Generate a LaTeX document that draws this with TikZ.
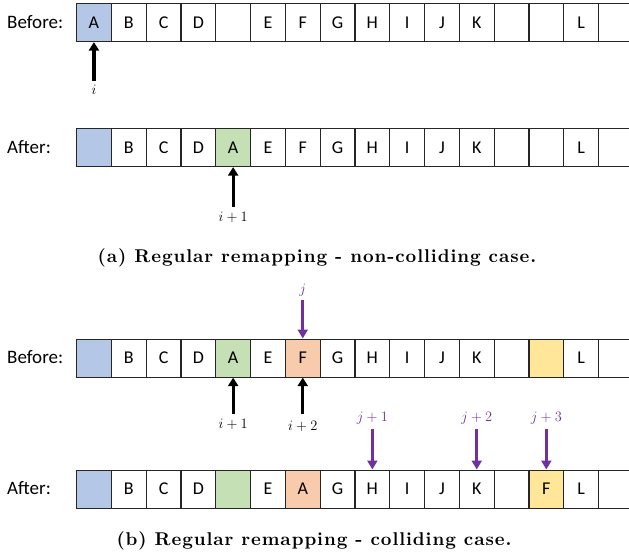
\documentclass[tikz,border=0pt]{standalone}
\usepackage{fontspec}
\newfontfamily\cellfont{Carlito}
\newfontfamily\capfont{lmroman10-bold}[Extension=.otf, LetterSpace=5]
\usetikzlibrary{arrows.meta}
\definecolor{cblue}{HTML}{B4C7E7}
\definecolor{cgreen}{HTML}{C5E0B4}
\definecolor{corange}{HTML}{F8CBAD}
\definecolor{cyellow}{HTML}{FFE699}
\definecolor{ptr}{HTML}{7030A0}
\tikzset{
  cell/.style={draw=black!85, line width=1.1pt, minimum width=34.8pt, minimum height=38pt,
    inner sep=0pt, anchor=north west, font=\cellfont\fontsize{18}{18}\selectfont},
  rowlabel/.style={anchor=west, inner sep=0pt, font=\cellfont\fontsize{19}{19}\selectfont},
  idx/.style={inner sep=0pt, font=\fontsize{15.5}{15.5}\selectfont},
  pidx/.style={idx, text=ptr},
  blackptr/.style={line width=3.3pt, -{Triangle[width=10pt,length=8.5pt]}},
  purpleptr/.style={draw=ptr, line width=2.7pt, -{Triangle[width=10pt,length=9pt]}},
  caption/.style={inner sep=0pt, font=\capfont\fontsize{18.5}{18.5}\selectfont},
}
% one array row: name prefix, top edge, list of text/fill pairs
\newcommand\arrayrow[3]{%
  \foreach \txt/\col [count=\k from 0] in {#3} {
    \node[cell, fill=\col] (#1\k) at ({76+34.8*\k},#2) {\txt};
  }%
}
\begin{document}
\begin{tikzpicture}[x=1pt,y=-1pt]
\clip (0,0) rectangle (629,556);
\fill[white] (0,0) rectangle (629,556);

\arrayrow{a}{3}{A/cblue,B/white,C/white,D/white,/white,E/white,F/white,G/white,H/white,I/white,J/white,K/white,/white,/white,L/white,/white}
\arrayrow{b}{128}{/cblue,B/white,C/white,D/white,A/cgreen,E/white,F/white,G/white,H/white,I/white,J/white,K/white,/white,/white,L/white,/white}
\arrayrow{c}{338.5}{/cblue,B/white,C/white,D/white,A/cgreen,E/white,F/corange,G/white,H/white,I/white,J/white,K/white,/white,/cyellow,L/white,/white}
\arrayrow{d}{469.5}{/cblue,B/white,C/white,D/white,/cgreen,E/white,A/corange,G/white,H/white,I/white,J/white,K/white,/white,F/cyellow,L/white,/white}

% row labels
\node[rowlabel] (la) at (7,22) {Before:};
\node[rowlabel] (lb) at (7,147) {After:};
\node[rowlabel] (lc) at (7,357.5) {Before:};
\node[rowlabel] (ld) at (7,488.5) {After:};

% (a) pointers
\node[idx] (pi) at (a0.south |- 0,90) {$i$};
\draw[blackptr] (pi.north) ++(0,-4) -- (a0.south);
\node[idx] (pi1) at (b4.south |- 0,217) {$i+1$};
\draw[blackptr] (pi1.north) ++(0,-5) -- (b4.south);

\node[caption] (capa) at (317,258) {(a) Regular remapping - non-colliding case.};

% (b) pointers
\node[pidx] (pj) at (c6.north |- 0,290) {$j$};
\draw[purpleptr] (pj.south) ++(0,4) -- (c6.north);
\node[idx] (pc1) at (c4.south |- 0,424) {$i+1$};
\draw[blackptr] (pc1.north) ++(0,-5) -- (c4.south);
\node[idx] (pc2) at (c6.south |- 0,426) {$i+2$};
\draw[blackptr] (pc2.north) ++(0,-7) -- (c6.south);

\node[pidx] (pj1) at (d8.north |- 0,418) {$j+1$};
\draw[purpleptr] (pj1.south) ++(0,5) -- (d8.north);
\node[pidx] (pj2) at (d11.north |- 0,418) {$j+2$};
\draw[purpleptr] (pj2.south) ++(0,5) -- (d11.north);
\node[pidx] (pj3) at (d13.north |- 0,418) {$j+3$};
\draw[purpleptr] (pj3.south) ++(0,5) -- (d13.north);

\node[caption] (capb) at (314,541) {(b) Regular remapping - colliding case.};
\end{tikzpicture}
\end{document}
